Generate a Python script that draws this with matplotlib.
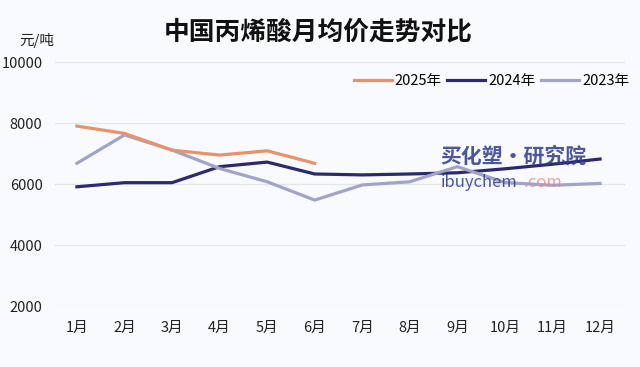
import matplotlib.pyplot as plt
import numpy as np

plt.rcParams['font.family'] = ['Noto Sans CJK SC', 'DejaVu Sans']

# 数据 (元/吨)
months = ['1月', '2月', '3月', '4月', '5月', '6月', '7月', '8月', '9月', '10月', '11月', '12月']
price_2025 = [7900, 7660, 7110, 6950, 7090, 6680]
price_2024 = [5910, 6045, 6045, 6570, 6720, 6330, 6300, 6330, 6370, 6500, 6650, 6820]
price_2023 = [6680, 7610, 7115, 6510, 6075, 5475, 5970, 6075, 6570, 6050, 5960, 6020]
y_ticks = [2000, 4000, 6000, 8000, 10000]

bg = '#f9fafd'
fig = plt.figure(figsize=(6.4, 3.67), dpi=100, facecolor=bg)
ax = fig.add_axes([0.086, 0.166, 0.891, 0.665], facecolor=bg)

x = np.arange(1, len(months) + 1)
ax.plot(x[:len(price_2025)], price_2025, color='#e9926a', lw=2.3, label='2025年', zorder=3)
ax.plot(x, price_2024, color='#2b2a6e', lw=2.3, label='2024年', zorder=2)
ax.plot(x, price_2023, color='#a0a4c9', lw=2.3, label='2023年', zorder=2.5)

ax.set_xlim(0.54, 12.53)
ax.set_ylim(2000, 10000)
ax.set_yticks(y_ticks)
ax.set_yticklabels([str(v) for v in y_ticks], fontsize=10.5, color='#222222')
ax.set_xticks(x)
ax.set_xticklabels(months, fontsize=10.5, color='#222222')
ax.tick_params(length=0)
ax.tick_params(axis='x', pad=11)
ax.tick_params(axis='y', pad=9)
ax.grid(axis='y', color='#e3e5ea', lw=0.9)
ax.set_axisbelow(True)
for s in ax.spines.values():
    s.set_visible(False)

leg = ax.legend(loc='upper right', bbox_to_anchor=(1.03, 1.005), ncol=3, frameon=False,
                fontsize=10.5, handlelength=2.6, handletextpad=0.2, columnspacing=0.4)

fig.text(0.497, 0.912, '中国丙烯酸月均价走势对比', ha='center', va='center',
         fontsize=18.5, fontweight='bold', color='#111111')
fig.text(0.058, 0.89, '元/吨', ha='center', va='center', fontsize=10.5, color='#222222')

# 水印
fig.text(0.688, 0.575, '买化塑·研究院', ha='left', va='center', fontsize=15,
         fontweight='bold', style='italic', color='#2b3a8c', alpha=0.85)
fig.text(0.688, 0.502, 'ibuychem', ha='left', va='center', fontsize=12,
         color='#2b3a8c', alpha=0.85)
fig.text(0.818, 0.502, '.com', ha='left', va='center', fontsize=12,
         color='#e88a8a', alpha=0.8)

fig.savefig('out.png', dpi=100, facecolor=bg)
